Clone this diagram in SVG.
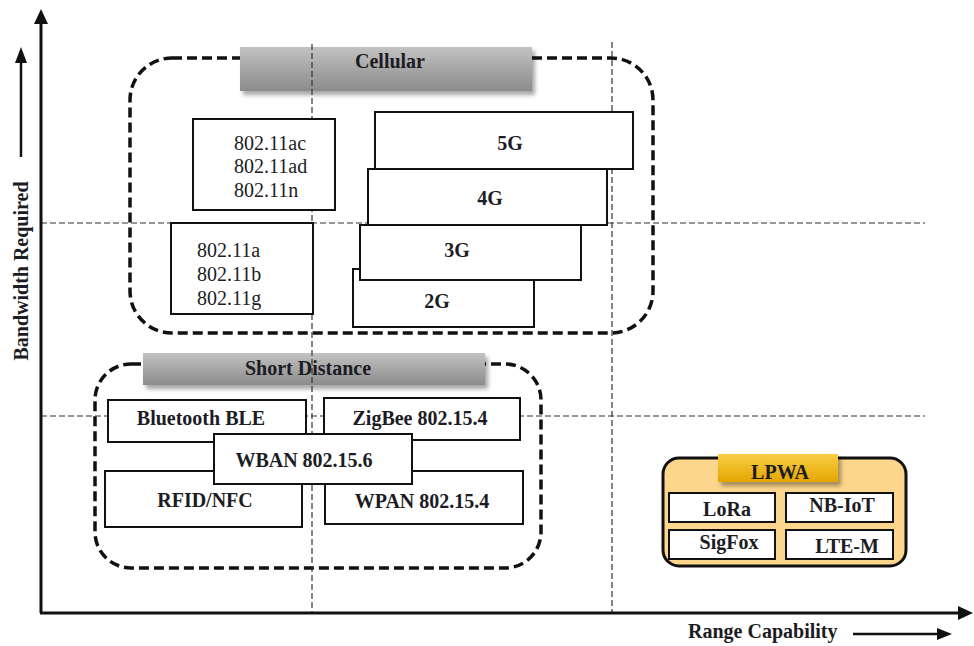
<svg xmlns="http://www.w3.org/2000/svg" width="974" height="646" viewBox="0 0 974 646">
  <defs>
    <style>
      text { font-family: "Liberation Serif", "Times New Roman", serif; font-size: 20px; fill: #1c1c24; }
      .b { font-weight: bold; }
      .mid { text-anchor: middle; }
      .axis { stroke: #111; stroke-width: 3; fill: none; }
      .grid { stroke: #333; stroke-width: 1.2; stroke-dasharray: 6 3; fill: none; }
      .group { stroke: #111; stroke-width: 3.5; stroke-dasharray: 10 5; fill: none; }
      .box { fill: #fff; stroke: #111; stroke-width: 2; }
    </style>
    <linearGradient id="grey" x1="0" y1="0" x2="0" y2="1">
      <stop offset="0" stop-color="#c2c2c2"/>
      <stop offset="0.5" stop-color="#a6a6a6"/>
      <stop offset="1" stop-color="#8c8c8c"/>
    </linearGradient>
    <linearGradient id="gold" x1="0" y1="0" x2="0" y2="1">
      <stop offset="0" stop-color="#f9cf45"/>
      <stop offset="1" stop-color="#e5a500"/>
    </linearGradient>
    <filter id="shadow" x="-10%" y="-30%" width="120%" height="170%">
      <feDropShadow dx="3" dy="4" stdDeviation="2" flood-color="#000" flood-opacity="0.35"/>
    </filter>
    <marker id="head" viewBox="0 0 10 10" refX="9" refY="5" markerWidth="5" markerHeight="5" orient="auto" markerUnits="strokeWidth">
      <path d="M0,0 L10,5 L0,10 z" fill="#111"/>
    </marker>
  </defs>

  <rect width="974" height="646" fill="#fff"/>

  <!-- Group outlines and their title bars -->
  <g id="cellular-group">
    <rect class="group" x="130" y="58" width="523" height="275" rx="42"/>
    <rect x="240" y="47" width="292" height="44" fill="url(#grey)" filter="url(#shadow)"/>
    <text class="b mid" x="390" y="68">Cellular</text>
  </g>
  <g id="short-distance-group">
    <rect class="group" x="95" y="364" width="446" height="204" rx="36"/>
    <rect x="143" y="353" width="342" height="32" fill="url(#grey)" filter="url(#shadow)"/>
    <text class="b mid" x="308" y="375">Short Distance</text>
  </g>

  <!-- Reference grid -->
  <g id="grid">
    <line class="grid" x1="312" y1="44" x2="312" y2="613"/>
    <line class="grid" x1="612" y1="42" x2="612" y2="613"/>
    <line class="grid" x1="41" y1="223" x2="925" y2="223"/>
    <line class="grid" x1="41" y1="416" x2="925" y2="416"/>
  </g>

  <!-- Axes -->
  <g id="connectors">
    <line class="axis" x1="41" y1="613" x2="41" y2="22"/>
    <path d="M41,9 L34,24 L48,24 z" fill="#111"/>
    <line class="axis" x1="40" y1="613" x2="960" y2="613"/>
    <path d="M973,613 L958,606 L958,620 z" fill="#111"/>
    <line x1="21" y1="157" x2="21" y2="60" stroke="#111" stroke-width="2.5"/>
    <path d="M21,47 L15,63 L27,63 z" fill="#111"/>
    <line x1="853" y1="634" x2="940" y2="634" stroke="#111" stroke-width="2.5"/>
    <path d="M952,634 L937,628 L937,640 z" fill="#111"/>
  </g>
  <g id="axis-labels">
    <text class="b mid" x="28" y="271" transform="rotate(-90 28 271)">Bandwidth Required</text>
    <text class="b" x="688" y="638">Range Capability</text>
  </g>

  <!-- Wi-Fi standards -->
  <g id="wifi-high">
    <rect class="box" x="193" y="119" width="142" height="91"/>
    <text x="234" y="150">802.11ac</text>
    <text x="234" y="173">802.11ad</text>
    <text x="234" y="197">802.11n</text>
  </g>
  <g id="wifi-low">
    <rect class="box" x="171" y="223" width="142" height="91"/>
    <text x="197" y="257">802.11a</text>
    <text x="197" y="281">802.11b</text>
    <text x="197" y="305">802.11g</text>
  </g>

  <!-- Cellular generations, stacked -->
  <g id="cell-2g">
    <rect class="box" x="353" y="269" width="181" height="58"/>
    <text class="b mid" x="437" y="308">2G</text>
  </g>
  <g id="cell-3g">
    <rect class="box" x="360" y="225" width="221" height="55"/>
    <text class="b mid" x="457" y="257">3G</text>
  </g>
  <g id="cell-4g">
    <rect class="box" x="368" y="169" width="239" height="56"/>
    <text class="b mid" x="490" y="205">4G</text>
  </g>
  <g id="cell-5g">
    <rect class="box" x="375" y="112" width="258" height="57"/>
    <text class="b mid" x="510" y="150">5G</text>
  </g>

  <!-- Short distance technologies -->
  <g id="bluetooth">
    <rect class="box" x="108" y="400" width="198" height="42"/>
    <text class="b mid" x="201" y="425">Bluetooth BLE</text>
  </g>
  <g id="zigbee">
    <rect class="box" x="324" y="398" width="196" height="42"/>
    <text class="b mid" x="420" y="425">ZigBee 802.15.4</text>
  </g>
  <g id="rfid">
    <rect class="box" x="105" y="471" width="197" height="56"/>
    <text class="b mid" x="205" y="507">RFID/NFC</text>
  </g>
  <g id="wpan">
    <rect class="box" x="325" y="471" width="198" height="53"/>
    <text class="b mid" x="422" y="508">WPAN 802.15.4</text>
  </g>
  <g id="wban">
    <rect class="box" x="214" y="434" width="198" height="50"/>
    <text class="b mid" x="304" y="467">WBAN 802.15.6</text>
  </g>

  <!-- LPWA -->
  <g id="lpwa-group">
    <rect x="663" y="458" width="243" height="108" rx="16" fill="#fcd68c" stroke="#111" stroke-width="3"/>
    <rect x="718" y="454" width="120" height="28" fill="url(#gold)" filter="url(#shadow)"/>
    <text class="b mid" x="780" y="479">LPWA</text>
  </g>
  <g id="lora">
    <rect class="box" x="669" y="493" width="106" height="29"/>
    <text class="b mid" x="727" y="516">LoRa</text>
  </g>
  <g id="nbiot">
    <rect class="box" x="786" y="493" width="107" height="29"/>
    <text class="b mid" x="842" y="512">NB-IoT</text>
  </g>
  <g id="sigfox">
    <rect class="box" x="669" y="530" width="106" height="29"/>
    <text class="b mid" x="729" y="549">SigFox</text>
  </g>
  <g id="ltem">
    <rect class="box" x="786" y="530" width="107" height="29"/>
    <text class="b mid" x="847" y="553">LTE-M</text>
  </g>
</svg>
